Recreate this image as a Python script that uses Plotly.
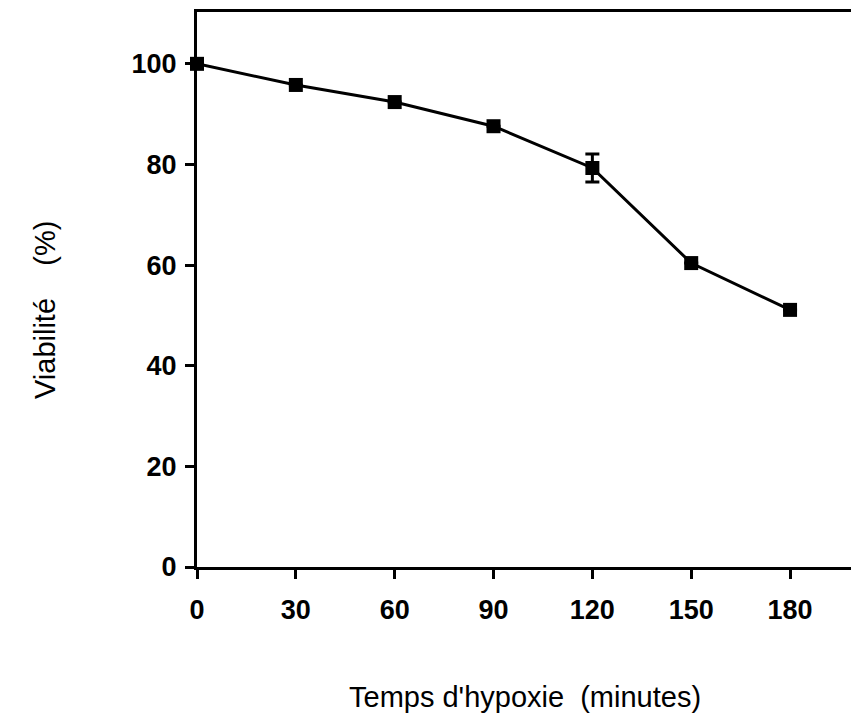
import plotly.graph_objects as go

time_min = [0, 30, 60, 90, 120, 150, 180]
viability = [100, 95.8, 92.4, 87.6, 79.3, 60.4, 51.1]
error = [0, 0, 0, 0, 2.8, 0, 0]
x_ticks = [0, 30, 60, 90, 120, 150, 180]
y_ticks = [0, 20, 40, 60, 80, 100]

FONT = "Liberation Sans, Arial, Helvetica, sans-serif"

fig = go.Figure()
fig.add_trace(go.Scatter(
    x=time_min, y=viability,
    mode="lines+markers",
    line=dict(color="black", width=3),
    marker=dict(symbol="square", size=14, color="black"),
    error_y=dict(type="data", array=error, visible=True, color="black", thickness=3, width=7),
    showlegend=False,
    cliponaxis=False,
))

fig.update_layout(
    width=851, height=721,
    margin=dict(l=197, r=0, t=12, b=154),
    paper_bgcolor="white", plot_bgcolor="white",
    xaxis=dict(
        range=[0, 198.5], tickvals=x_ticks, ticktext=[str(v) for v in x_ticks],
        showgrid=False, zeroline=False,
        showline=True, linecolor="black", linewidth=3, mirror=True,
        ticks="outside", ticklen=9, tickwidth=3, tickcolor="black",
        ticklabelstandoff=8,
        tickfont=dict(family=FONT, size=27, color="black", weight="bold"),
    ),
    yaxis=dict(
        range=[0, 110.3], tickvals=y_ticks,
        showgrid=False, zeroline=False,
        showline=True, linecolor="black", linewidth=3, mirror=False,
        ticks="outside", ticklen=9, tickwidth=3, tickcolor="black",
        ticklabelstandoff=3,
        tickfont=dict(family=FONT, size=27, color="black", weight="bold"),
    ),
    annotations=[
        dict(text="Temps d'hypoxie  (minutes)", xref="paper", yref="paper",
             x=(525 - 197) / 654, y=-(697 - 567) / 555, showarrow=False,
             xanchor="center", yanchor="middle",
             font=dict(family=FONT, size=29, color="black")),
        dict(text="Viabilité    (%)", xref="paper", yref="paper",
             x=-(197 - 45) / 654, y=(567 - 310) / 555, showarrow=False,
             textangle=-90, xanchor="center", yanchor="middle",
             font=dict(family=FONT, size=29, color="black")),
    ],
)

fig.write_html("out.html")
